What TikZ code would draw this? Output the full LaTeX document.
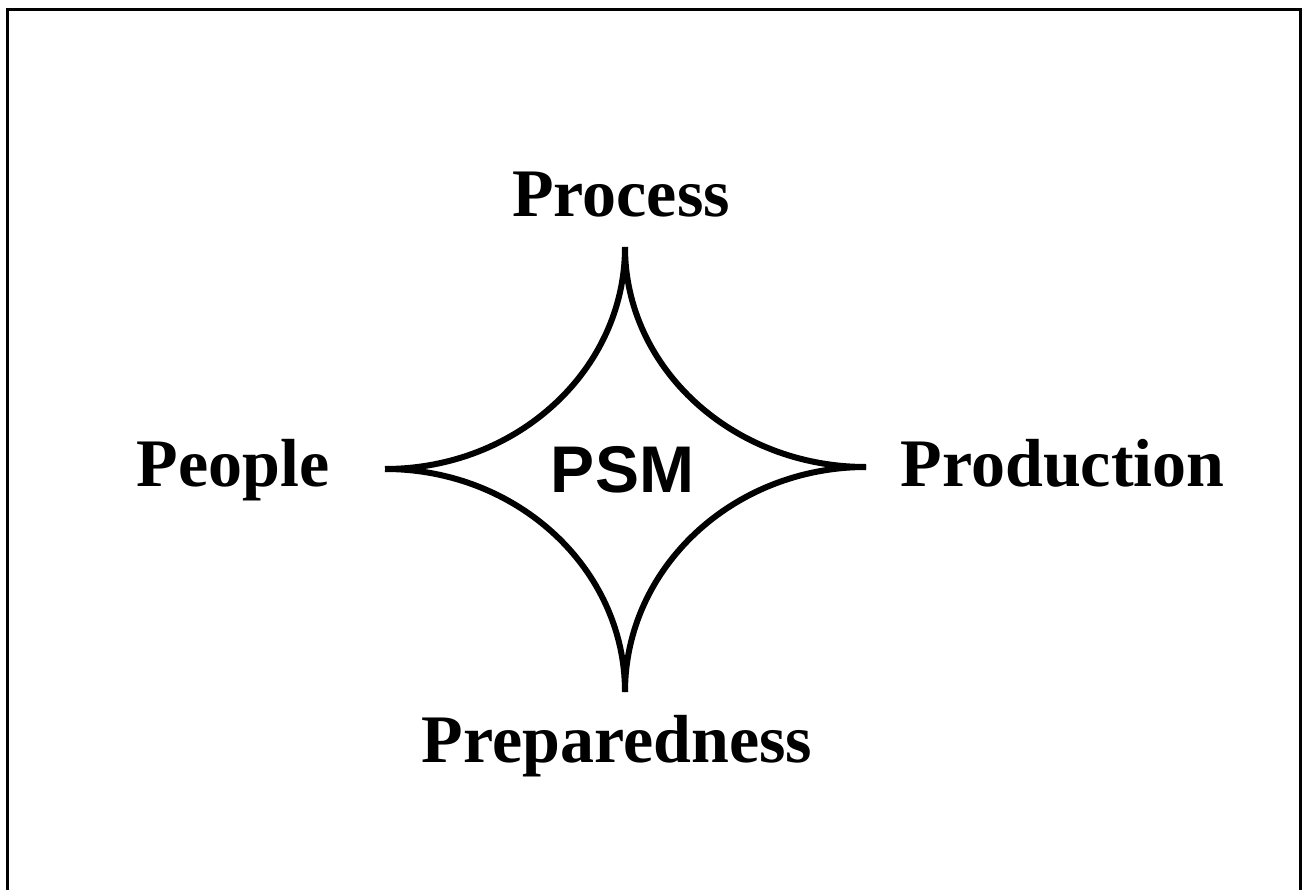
\documentclass[tikz,border=0pt]{standalone}
\usepackage{fontspec}
\setmainfont{Liberation Serif}
\newfontfamily\psmfont{Liberation Sans}
\begin{document}
\begin{tikzpicture}[x=1pt,y=-1pt,
  lbl/.style={anchor=base,inner sep=0pt,font=\bfseries\fontsize{68}{80}\selectfont},
  core/.style={anchor=base,inner sep=0pt,font=\psmfont\bfseries\fontsize{66}{78}\selectfont},
  curve/.style={line width=6pt},
  frame/.style={line width=2.5pt}]
\useasboundingbox (0,0) rectangle (1303,890);
\fill[white] (0,0) rectangle (1303,890);
\draw[frame] (7.5,895) -- (7.5,9.5) -- (1300.5,9.5) -- (1300.5,895);
\coordinate (T) at (625,247);
\coordinate (R) at (866,467);
\coordinate (B) at (625,692);
\coordinate (L) at (385,469);
\draw[curve] (T) .. controls +(0,121.5) and +(-133,0) .. (R);
\draw[curve] (T) .. controls +(0,122.6) and +(132.5,0) .. (L);
\draw[curve] (B) .. controls +(0,-124) and +(-133,0) .. (R);
\draw[curve] (B) .. controls +(0,-123) and +(132.5,0) .. (L);
\node[lbl] (process) at (621,217) {Process};
\node[lbl] (people) at (233,486) {People};
\node[lbl] (production) at (1062.5,486) {Production};
\node[lbl] (preparedness) at (617,762) {Preparedness};
\node[core] (psm) at (622.5,492) {PSM};
\end{tikzpicture}
\end{document}
